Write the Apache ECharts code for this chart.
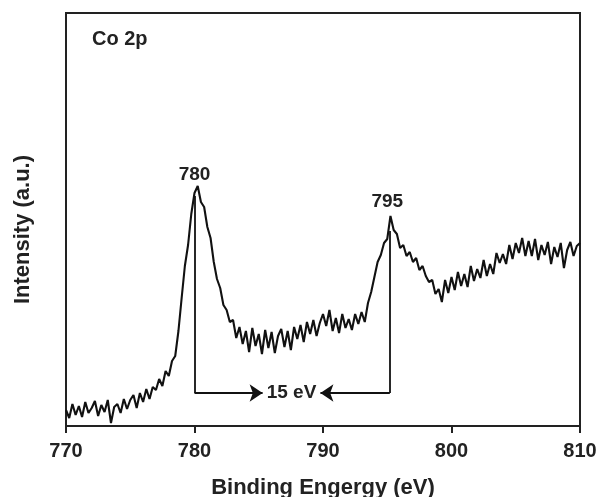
<!DOCTYPE html>
<html>
<head>
<meta charset="utf-8">
<script src="https://cdn.jsdelivr.net/npm/echarts/dist/echarts.min.js"></script>
<style>
  html, body { margin: 0; padding: 0; background: #fff; }
  #container { width: 597px; height: 497px; }
</style>
</head>
<body>
<div id="container"></div>
<script>
// Co 2p XPS spectrum (intensity in arbitrary units)
var energy = [
    770,770.25,770.5,770.75,771,771.25,771.5,771.75,
    772,772.25,772.5,772.75,773,773.25,773.5,773.75,
    774,774.25,774.5,774.75,775,775.25,775.5,775.75,
    776,776.25,776.5,776.75,777,777.25,777.5,777.75,
    778,778.25,778.5,778.75,779,779.25,779.5,779.75,
    780,780.25,780.5,780.75,781,781.25,781.5,781.75,
    782,782.25,782.5,782.75,783,783.25,783.5,783.75,
    784,784.25,784.5,784.75,785,785.25,785.5,785.75,
    786,786.25,786.5,786.75,787,787.25,787.5,787.75,
    788,788.25,788.5,788.75,789,789.25,789.5,789.75,
    790,790.25,790.5,790.75,791,791.25,791.5,791.75,
    792,792.25,792.5,792.75,793,793.25,793.5,793.75,
    794,794.25,794.5,794.75,795,795.25,795.5,795.75,
    796,796.25,796.5,796.75,797,797.25,797.5,797.75,
    798,798.25,798.5,798.75,799,799.25,799.5,799.75,
    800,800.25,800.5,800.75,801,801.25,801.5,801.75,
    802,802.25,802.5,802.75,803,803.25,803.5,803.75,
    804,804.25,804.5,804.75,805,805.25,805.5,805.75,
    806,806.25,806.5,806.75,807,807.25,807.5,807.75,
    808,808.25,808.5,808.75,809,809.25,809.5,809.75,
    810
];
var intensity = [
    16,8,22,11, 20,9,24,13,
    18,25,10,21, 14,26,3,19,
    22,13,27,17, 26,31,18,33,
    24,37,27,39, 36,47,40,55,
    50,65,70,95, 128,160,181,212,
    233,240,224,219, 199,188,164,147,
    138,121,116,104, 106,88,99,82,
    95,74,98,80, 92,72,96,78,
    94,73,90,97, 79,95,76,99,
    87,101,84,104, 92,106,90,103,
    112,100,116,95, 108,93,112,98,
    107,96,112,102, 114,104,123,134,
    149,164,171,183, 187,210,196,192,
    178,181,170,174, 164,168,156,160,
    150,144,146,132, 137,124,146,133,
    149,136,154,140, 152,139,160,145,
    157,148,166,150, 162,152,173,163,
    172,162,181,167, 183,173,188,170,
    185,170,187,166, 181,171,184,162,
    179,169,183,158, 176,184,170,180,
    183
];
var xTicks = [770, 780, 790, 800, 810];
var peakNames = ['780', '795'];
var peakEnergy = [780, 795.2];
var splitting = '15 eV';

var dom = document.getElementById("container");
var myChart = echarts.init(dom);
var option = null;
var font = 'Liberation Sans, Arial, sans-serif';

var lineData = [];
for (var i = 0; i < energy.length; i++) {
    lineData.push([energy[i], intensity[i]]);
}

option = {
    animation: false,
    title: {
        text: 'Co 2p',
        left: 87,
        top: 24,
        textStyle: {fontFamily: font, fontSize: 20, fontWeight: 'bold', color: '#222'}
    },
    grid: {
        left: 66,
        right: 17,
        top: 13,
        bottom: 71,
        outerBoundsMode: 'none',
        show: true,
        borderColor: '#222',
        borderWidth: 2
    },
    xAxis: {
        type: 'value',
        min: 770,
        max: 810,
        interval: 10,
        name: 'Binding Engergy (eV)',
        nameLocation: 'middle',
        nameGap: 51,
        nameTextStyle: {fontFamily: font, fontSize: 22, fontWeight: 'bold', color: '#222'},
        axisLine: {onZero: false, lineStyle: {color: '#222', width: 2}},
        axisTick: {show: true, inside: false, length: 7, lineStyle: {color: '#222', width: 2}},
        axisLabel: {
            margin: 15, fontFamily: font, fontSize: 20, fontWeight: 'bold', color: '#222',
            formatter: function (v) { return xTicks.indexOf(v) >= 0 ? String(v) : ''; }
        },
        splitLine: {show: false}
    },
    yAxis: {
        type: 'value',
        min: 0,
        max: 413,
        name: 'Intensity (a.u.)',
        nameLocation: 'middle',
        nameGap: 32,
        nameTextStyle: {fontFamily: font, fontSize: 22, fontWeight: 'bold', color: '#222', padding: [0, 20, 0, 0]},
        axisLine: {show: true, onZero: false, lineStyle: {color: '#222', width: 2}},
        axisTick: {show: false},
        axisLabel: {show: false},
        splitLine: {show: false}
    },
    series: [
        {
            id: 'co2p',
            type: 'line',
            data: lineData,
            showSymbol: false,
            symbol: 'none',
            lineStyle: {color: '#111', width: 2.1},
            markLine: {
                silent: true,
                animation: false,
                label: {show: false},
                lineStyle: {color: '#111', width: 1.8, type: 'solid'},
                symbolSize: 13,
                data: [
                    // vertical drop lines from both peaks
                    [{coord: [peakEnergy[0], 230], symbol: 'none'}, {coord: [peakEnergy[0], 33], symbol: 'none'}],
                    [{coord: [peakEnergy[1], 195], symbol: 'none'}, {coord: [peakEnergy[1], 33], symbol: 'none'}],
                    // arrows toward the splitting label
                    [{coord: [peakEnergy[0], 33], symbol: 'none'}, {coord: [785.3, 33], symbol: 'arrow'}],
                    [{coord: [peakEnergy[1], 33], symbol: 'none'}, {coord: [789.8, 33], symbol: 'arrow'}]
                ]
            },
            markPoint: {
                silent: true,
                animation: false,
                symbol: 'circle',
                symbolSize: 0,
                label: {
                    show: true,
                    position: 'inside',
                    fontFamily: font,
                    fontSize: 19,
                    fontWeight: 'bold',
                    color: '#222',
                    formatter: function (p) { return p.name; }
                },
                data: [
                    {name: peakNames[0], coord: [peakEnergy[0], 251]},
                    {name: peakNames[1], coord: [peakEnergy[1] - 0.2, 224]},
                    {name: splitting, coord: [787.55, 33]}
                ]
            }
        }
    ]
};

if (option && typeof option === "object") {
    myChart.setOption(option, true);
}
</script>
</body>
</html>
